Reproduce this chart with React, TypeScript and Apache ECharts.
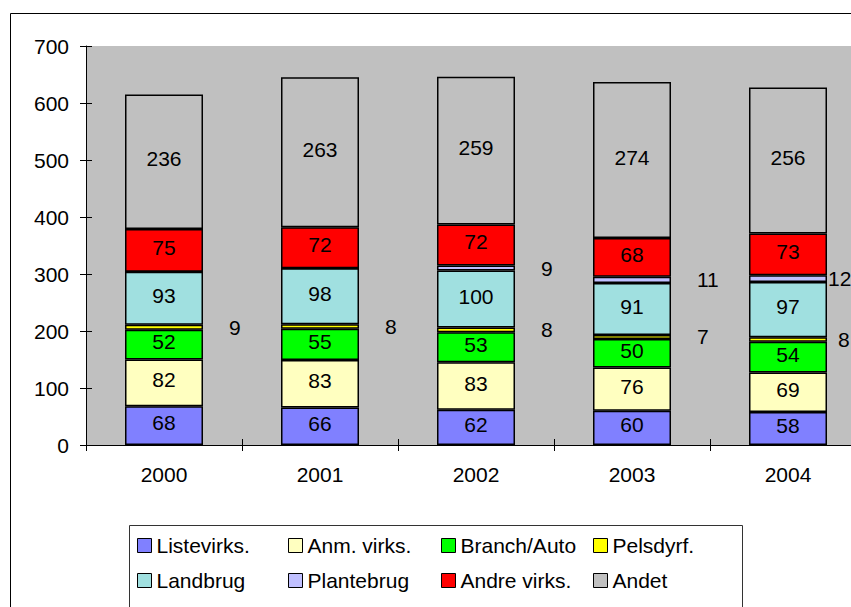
import React, { useEffect, useRef } from "react";
import * as echarts from "echarts";

const years = ["2000", "2001", "2002", "2003", "2004"];
const listevirks = [68, 66, 62, 60, 58];
const anmVirks = [82, 83, 83, 76, 69];
const branchAuto = [52, 55, 53, 50, 54];
const pelsdyrf = [9, 8, 8, 7, 8];
const landbrug = [93, 98, 100, 91, 97];
const plantebrug = [0, 0, 9, 11, 12];
const andreVirks = [75, 72, 72, 68, 73];
const andet = [236, 263, 259, 274, 256];

const FONT = "'Liberation Sans', Arial, sans-serif";
const FS = 21;

export default function App() {
  const ref = useRef<HTMLDivElement>(null);
  useEffect(() => {
    if (!ref.current) return;
    const chart = echarts.init(ref.current, undefined, { renderer: "svg" });

    const insideLabel = {
      show: true,
      position: "inside",
      color: "#000",
      fontSize: FS,
      fontFamily: FONT,
      offset: [0, -3],
      formatter: (p: any) => (p.value > 0 ? String(p.value) : ""),
    };
    const sideData = (arr: number[], lastDist: number) =>
      arr.map((v, i) => ({
        value: v,
        label: {
          show: v > 0,
          position: "right",
          distance: i === arr.length - 1 ? lastDist : 26,
          color: "#000",
          fontSize: FS,
          fontFamily: FONT,
        },
      }));

    const mk = (name: string, color: string, data: any[], label: any) => ({
      name,
      type: "bar",
      stack: "total",
      barWidth: "50%",
      data,
      itemStyle: { color, borderColor: "#000", borderWidth: 1.5 },
      label,
    });

    const series = [
      mk("Listevirks.", "#8080FF", listevirks, insideLabel),
      mk("Anm. virks.", "#FFFFC0", anmVirks, insideLabel),
      mk("Branch/Auto", "#00FF00", branchAuto, insideLabel),
      mk("Pelsdyrf.", "#FFFF00", sideData(pelsdyrf, 11), { show: false }),
      mk("Landbrug", "#A0E0E0", landbrug, insideLabel),
      mk("Plantebrug", "#C0C0FF", sideData(plantebrug, 1), { show: false }),
      mk("Andre virks.", "#FF0000", andreVirks, insideLabel),
      mk("Andet", "#C0C0C0", andet, insideLabel),
    ];

    const legendCols: string[][] = [
      ["Listevirks.", "Landbrug"],
      ["Anm. virks.", "Plantebrug"],
      ["Branch/Auto", "Andre virks."],
      ["Pelsdyrf.", "Andet"],
    ];
    const colX = [137, 288, 441, 593];

    const legend = legendCols.map((items, i) => ({
      data: items,
      orient: "vertical",
      left: colX[i],
      top: 535,
      padding: 0,
      itemGap: 14,
      itemWidth: 14,
      itemHeight: 14,
      icon: "rect",
      selectedMode: false,
      itemStyle: { borderColor: "#000", borderWidth: 1 },
      textStyle: { color: "#000", fontSize: FS, fontFamily: FONT },
    }));

    const yBase = {
      type: "value",
      min: 0,
      max: 700,
      interval: 100,
      position: "left",
      splitLine: { show: false },
    };
    const xBase = {
      type: "category",
      data: years,
      position: "bottom",
    };

    chart.setOption({
      animation: false,
      backgroundColor: "#fff",
      textStyle: { fontFamily: FONT },
      grid: {
        left: 86,
        top: 46,
        height: 399,
        width: 780,
        show: true,
        backgroundColor: "#C0C0C0",
        borderWidth: 0,
      },
      xAxis: [
        {
          ...xBase,
          axisLine: { show: true, lineStyle: { color: "#000", width: 1 } },
          axisTick: { show: true, length: 6, lineStyle: { color: "#000" } },
          axisLabel: { color: "#000", fontSize: FS, fontFamily: FONT, margin: 19 },
        },
        {
          ...xBase,
          axisLine: { show: false },
          axisTick: { show: true, inside: true, length: 6, lineStyle: { color: "#000" } },
          axisLabel: { show: false },
        },
      ],
      yAxis: [
        {
          ...yBase,
          axisLine: { show: true, lineStyle: { color: "#000", width: 1 } },
          axisTick: { show: true, length: 6, lineStyle: { color: "#000" } },
          axisLabel: { color: "#000", fontSize: FS, fontFamily: FONT, margin: 17 },
        },
        {
          ...yBase,
          axisLine: { show: false },
          axisTick: { show: true, inside: true, length: 6, lineStyle: { color: "#000" } },
          axisLabel: { show: false },
        },
      ],
      legend,
      graphic: [
        {
          type: "rect",
          shape: { x: 10.5, y: 13.5, width: 900, height: 700 },
          style: { fill: "none", stroke: "#000", lineWidth: 1 },
          silent: true,
          z: -10,
        },
        {
          type: "rect",
          shape: { x: 129.5, y: 525.5, width: 613, height: 100 },
          style: { fill: "#fff", stroke: "#333", lineWidth: 1 },
          silent: true,
          z: -5,
        },
      ],
      series,
    });
    return () => chart.dispose();
  }, []);
  return (
    <div
      ref={ref}
      style={{ position: "fixed", left: 0, top: 0, width: 900, height: 607 }}
    />
  );
}
